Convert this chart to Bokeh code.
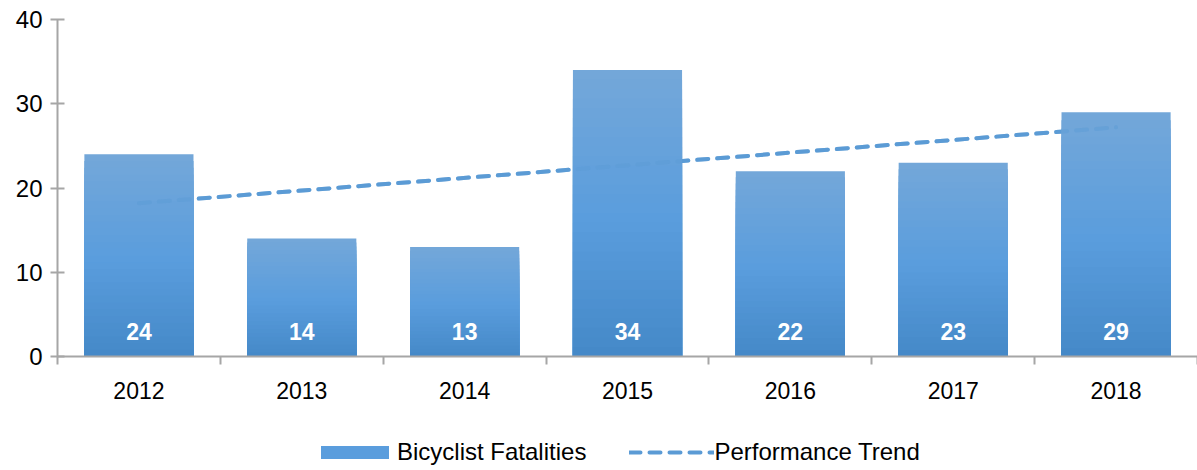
import numpy as np
from bokeh.plotting import figure
from bokeh.models import (ColumnDataSource, FixedTicker, Legend, LegendItem, Range1d, LabelSet)
from bokeh.layouts import column
from bokeh.embed import file_html
from bokeh.resources import INLINE
from bokeh.core.properties import value

years = ["2012", "2013", "2014", "2015", "2016", "2017", "2018"]
fatalities = [24, 14, 13, 34, 22, 23, 29]
trend_years = ["2012", "2018"]
trend_values = [18.2, 27.2]
y_ticks = [0, 10, 20, 30, 40]

FONT = "Liberation Sans"
BAR_MID = "#5a9ddd"
LINE_COL = "#5b9bd5"
AXIS_COL = "#a6a6a6"
xs = list(range(len(years)))
trend_x = [years.index(t) for t in trend_years]

W = 1197
p = figure(width=W, height=410, output_backend="svg", toolbar_location=None,
           x_range=Range1d(-0.5, len(years) - 0.5), y_range=Range1d(0, 40),
           min_border_left=57, min_border_right=0, min_border_top=19, min_border_bottom=54)
p.outline_line_color = None
p.xgrid.grid_line_color = None
p.ygrid.grid_line_color = None

# trend line (behind bars)
p.line(trend_x, trend_values, line_color=LINE_COL, line_width=4,
       line_dash="11 9", line_cap="round")

# gradient bars via nested slices (light top -> darker bottom)
stops_t = [0.0, 0.5, 1.0]   # 0 = bottom, 1 = top
stops_c = [(68, 136, 199), (90, 157, 221), (115, 167, 217)]
N = 30
for k in range(N, 0, -1):
    frac = k / N
    rgb = [int(round(np.interp(frac, stops_t, [c[i] for c in stops_c]))) for i in range(3)]
    col = "#%02x%02x%02x" % tuple(rgb)
    tops = [v * frac for v in fatalities]
    p.vbar(x=xs, top=tops, bottom=0, width=0.67, fill_color=col, line_color=None)

# faint trend line showing through the bars
p.line(trend_x, trend_values, line_color=LINE_COL, line_width=4, line_alpha=0.5,
       line_dash="11 9", line_cap="round")

# value labels
lab_src = ColumnDataSource(dict(x=xs, y=[0] * len(xs), t=[str(v) for v in fatalities]))
labels = LabelSet(x="x", y="y", text="t", source=lab_src, text_color="white",
                  text_font=value(FONT), text_font_size="23px", text_font_style="bold",
                  text_align="center", text_baseline="middle", y_offset=25)
p.add_layout(labels)

# axes
p.xaxis.ticker = FixedTicker(ticks=xs, minor_ticks=[x - 0.5 for x in xs] + [len(xs) - 0.5])
p.xaxis.major_label_overrides = {x: y for x, y in zip(xs, years)}
p.xaxis.major_tick_line_color = None
p.xaxis.major_tick_out = 0
p.xaxis.major_tick_in = 0
p.xaxis.minor_tick_out = 8
p.xaxis.minor_tick_in = 0
p.xaxis.minor_tick_line_color = AXIS_COL
p.xaxis.minor_tick_line_width = 2
p.xaxis.axis_line_color = AXIS_COL
p.xaxis.axis_line_width = 2
p.xaxis.major_label_text_font = FONT
p.xaxis.major_label_text_font_size = "23px"
p.xaxis.major_label_text_color = "#000000"
p.xaxis.major_label_standoff = 17

p.yaxis.ticker = FixedTicker(ticks=y_ticks)
p.yaxis.minor_tick_line_color = None
p.yaxis.major_tick_out = 7
p.yaxis.major_tick_in = 7
p.yaxis.major_tick_line_color = AXIS_COL
p.yaxis.major_tick_line_width = 2
p.yaxis.axis_line_color = AXIS_COL
p.yaxis.axis_line_width = 2
p.yaxis.major_label_text_font = FONT
p.yaxis.major_label_text_font_size = "24px"
p.yaxis.major_label_text_color = "#000000"
p.yaxis.major_label_standoff = 8

# legend in a strip figure below (proxy glyphs sit outside its visible range)
lg = figure(width=W, height=60, output_backend="svg", toolbar_location=None,
            x_range=Range1d(0, 1), y_range=Range1d(0, 1),
            min_border_left=0, min_border_right=0, min_border_top=0, min_border_bottom=0)
lg.axis.visible = False
lg.grid.visible = False
lg.outline_line_color = None
bar_proxy = lg.vbar(x=[-5], top=[-5], bottom=-6, width=0.5, fill_color=BAR_MID, line_color=None)
line_proxy = lg.line(x=[-5, -4], y=[-5, -5], line_color=LINE_COL, line_width=4,
                     line_dash="11 9", line_cap="round")
legend = Legend(items=[LegendItem(label="Bicyclist Fatalities", renderers=[bar_proxy]),
                       LegendItem(label="Performance Trend", renderers=[line_proxy])],
                orientation="horizontal", location=(255, 4),
                glyph_width=85, glyph_height=16, label_standoff=0, spacing=43,
                label_text_font=FONT, label_text_font_size="24px",
                label_text_color="#000000", border_line_color=None,
                background_fill_alpha=0, padding=0, margin=0)
lg.add_layout(legend, "center")

layout = column(p, lg, spacing=0)
open("out.html", "w").write(file_html(layout, INLINE))
